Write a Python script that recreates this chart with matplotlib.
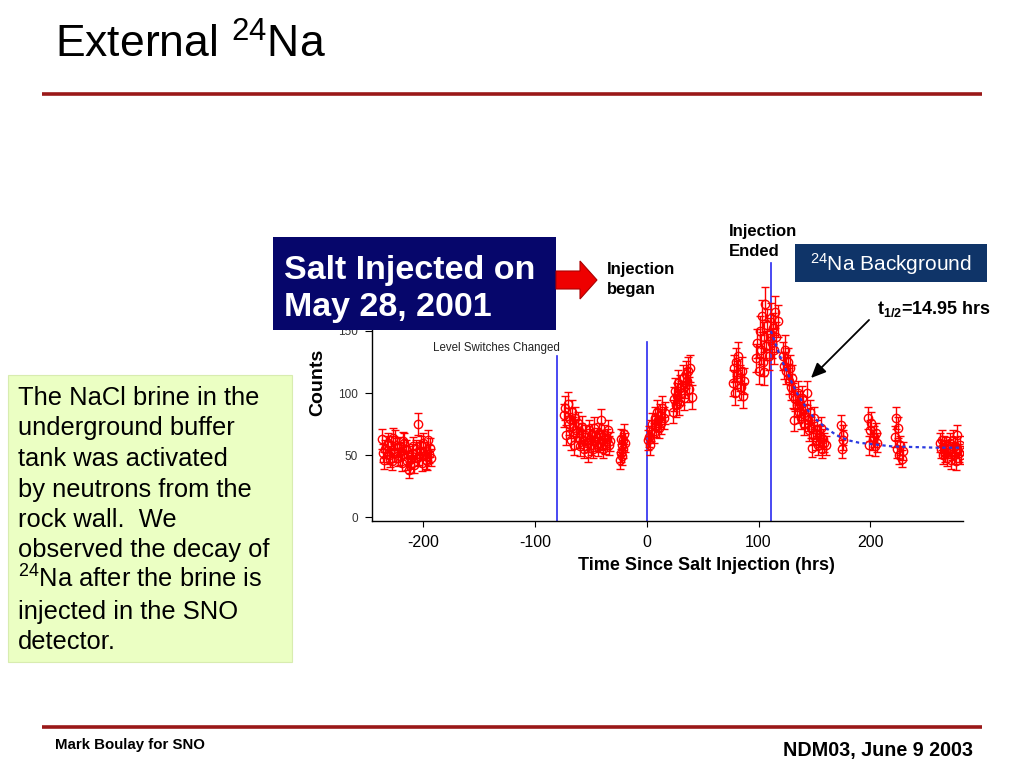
import numpy as np
import matplotlib
matplotlib.use('Agg')
import matplotlib.pyplot as plt
from matplotlib.patches import Rectangle, Polygon, FancyArrowPatch

plt.rcParams['font.family'] = ['Liberation Sans', 'DejaVu Sans']
plt.rcParams['mathtext.fontset'] = 'custom'
plt.rcParams['mathtext.rm'] = 'Liberation Sans'
plt.rcParams['mathtext.bf'] = 'Liberation Sans:bold'
plt.rcParams['mathtext.it'] = 'Liberation Sans:italic'

# ---------------- data ----------------
t_pre = [-237, -236.5, -235, -234, -233, -232, -231, -230, -229, -228, -227, -226, -225, -224,
         -223, -222, -221, -220, -219, -218, -217, -216, -215, -214, -213, -212, -211, -210,
         -209, -208, -207, -206, -205, -204, -203, -202, -201, -200, -199, -198, -197, -196,
         -195, -194, -193]
c_pre = [63, 52, 46, 55, 58, 60, 50, 47, 58, 45, 64, 52, 62, 56, 48, 57, 49, 53, 44, 61,
         60, 55, 45, 50, 38, 42, 47, 52, 57, 42, 55, 48, 75, 49, 53, 58, 44, 60, 53, 46,
         45, 62, 51, 56, 48]

t_lvl = [-74, -73, -72, -71, -70, -69, -68, -67, -66, -65, -64, -63, -62, -61, -60, -59, -58,
         -57, -56, -55, -54, -53, -52, -51, -50, -49, -48, -47, -46, -45, -44, -43, -42, -41,
         -40, -39, -38, -37, -36, -35, -34, -33]
c_lvl = [82, 88, 66, 91, 75, 79, 62, 85, 72, 58, 80, 70, 76, 64, 57, 68, 73, 62, 55, 66, 60,
         52, 70, 63, 58, 67, 55, 72, 61, 64, 57, 68, 60, 78, 62, 55, 66, 59, 63, 70, 58, 61]

t_gap = [-24, -23.5, -23, -22.5, -22, -21.5, -21, -20, -19.5]
c_gap = [46, 52, 63, 58, 49, 62, 55, 67, 60]

t_inj1 = [1, 2, 3, 4, 5, 6, 7, 8, 9, 10, 11, 12, 13, 14, 15, 16]
c_inj1 = [62, 65, 58, 70, 75, 68, 80, 73, 85, 78, 72, 82, 76, 88, 80, 84]

t_inj2 = [23, 24, 25, 26, 27, 28, 29, 30, 31, 32, 33, 34, 35, 36, 37, 38, 39, 40]
c_inj2 = [85, 95, 102, 90, 98, 108, 92, 104, 100, 112, 96, 106, 115, 110, 118, 103, 120, 97]

t_inj3 = [77, 78, 79, 80, 81, 82, 83, 84, 85, 86, 87]
c_inj3 = [108, 120, 100, 125, 115, 130, 112, 105, 118, 98, 110]

t_peak = [98, 99, 100, 101, 102, 103, 104, 104.5, 105, 106, 107, 108, 109, 110, 111, 112,
          113, 114, 115, 116, 117]
c_peak = [128, 140, 118, 150, 135, 162, 125, 117, 145, 172, 138, 155, 130, 148, 160, 140,
          152, 135, 165, 145, 158]

t_decay = [122, 123, 124, 125, 126, 127, 128, 129, 130, 131, 132, 133, 134, 135, 136, 137,
           138, 139, 140, 141, 142, 143, 144, 145, 146, 147, 148, 149, 150, 151, 152, 153,
           154, 155, 156, 157, 158, 159, 160]
c_decay = [130, 122, 135, 118, 125, 110, 120, 105, 112, 98, 78, 95, 90, 100, 85, 92, 80, 96,
           88, 75, 82, 100, 78, 70, 85, 72, 56, 66, 80, 62, 70, 58, 66, 65, 72, 55, 63, 60, 58]

t_late = [174, 175, 175.5, 176, 198, 199, 200, 201, 202, 203, 204, 205, 206,
          222, 223, 224, 225, 226, 227, 228, 229]
c_late = [74, 55, 62, 66, 80, 58, 70, 76, 62, 65, 57, 68, 60,
          65, 80, 55, 72, 50, 58, 47, 53]

t_end = [262, 263, 264, 265, 266, 267, 268, 269, 270, 271, 272, 273, 274, 275, 276, 277,
         278, 279, 280, 281]
c_end = [60, 55, 62, 50, 58, 52, 57, 48, 55, 60, 46, 53, 62, 50, 57, 45, 66, 52, 58, 50]

# decay fit (t1/2 = 14.95 hrs)
fit_t = [111, 115, 120, 125, 130, 135, 140, 145, 150, 160, 170, 180, 190, 200, 220, 240, 260, 281]
fit_c = [150, 140, 128, 118, 108, 99, 92, 85, 80, 72, 66, 62, 60, 59, 57, 56.5, 56, 56]

# event markers: time (hrs) and top of line (counts)
event_t = [-80, 0, 111]
event_top = [130, 141, 205]

xtick_vals = [-200, -100, 0, 100, 200]
xtick_labels = ['-200', '-100', '0', '100', '200']
ytick_vals = [0, 50, 100, 150]

# ---------------- figure ----------------
t = np.array(t_pre + t_lvl + t_gap + t_inj1 + t_inj2 + t_inj3 + t_peak + t_decay + t_late + t_end, float)
c = np.array(c_pre + c_lvl + c_gap + c_inj1 + c_inj2 + c_inj3 + c_peak + c_decay + c_late + c_end, float)
err = np.sqrt(c)

fig = plt.figure(figsize=(10.24, 7.68), dpi=100)
W, H = 1024, 768
ax = fig.add_axes([372 / W, 1 - 521 / H, (963 - 372) / W, (521 - 275) / H], zorder=1)
ax.patch.set_alpha(0)

ax.errorbar(t, c, yerr=err, fmt='o', mfc='none', mec='#ff0000', ecolor='#ff0000',
            ms=6, mew=1, elinewidth=1, capsize=3, capthick=1, zorder=3)
ax.plot(fit_t, fit_c, linestyle=(0, (1.5, 1.5)), color='#2b3be0', lw=1.6, zorder=4)
for xe, top in zip(event_t, event_top):
    ax.plot([xe, xe], [-3, top], color='#2a2af0', lw=1.2, clip_on=False, zorder=2)

ax.set_xlim(-246, 283)
ax.set_ylim(-3, 195)
for s in ['top', 'right']:
    ax.spines[s].set_visible(False)
for s in ['left', 'bottom']:
    ax.spines[s].set_linewidth(1)
ax.set_xticks(xtick_vals)
ax.set_xticklabels(xtick_labels)
ax.set_yticks(ytick_vals)
ax.tick_params(axis='x', direction='out', length=4, pad=6, labelsize=11.5)
ax.tick_params(axis='y', direction='out', length=5, pad=5, labelsize=8.5, labelcolor='#333333')

# ---------------- overlay (slide elements, pixel coords) ----------------
ov = fig.add_axes([0, 0, 1, 1], zorder=10)
ov.set_xlim(0, W)
ov.set_ylim(H, 0)
ov.axis('off')
ov.patch.set_alpha(0)

ov.text(55, 58, r'External $\mathrm{^{24}}$Na', fontsize=32, va='baseline', ha='left')
ov.plot([42, 982], [94, 94], color='#9a1818', lw=2.6, solid_capstyle='butt')
ov.plot([42, 982], [727, 727], color='#9a1818', lw=2.6, solid_capstyle='butt')

ov.text(55, 749, 'Mark Boulay for SNO', fontsize=10.8, fontweight='bold', va='baseline')
ov.text(973, 756, 'NDM03, June 9 2003', fontsize=14.2, fontweight='bold', va='baseline', ha='right')

# Salt injected box
ov.add_patch(Rectangle((273, 237), 283, 93, facecolor='#06066b', edgecolor='none'))
ov.text(284, 279, 'Salt Injected on', color='white', fontsize=24.5, fontweight='bold', va='baseline')
ov.text(284, 316, 'May 28, 2001', color='white', fontsize=24.5, fontweight='bold', va='baseline')
ov.add_patch(Polygon([(556, 271), (580, 271), (580, 261), (597, 280), (580, 299), (580, 289), (556, 289)],
                     closed=True, facecolor='#ee0000', edgecolor='#aa0000', lw=0.8))

ov.text(607, 274, 'Injection', fontsize=12, fontweight='bold', va='baseline')
ov.text(607, 294, 'began', fontsize=12, fontweight='bold', va='baseline')
ov.text(729, 236, 'Injection', fontsize=12, fontweight='bold', va='baseline')
ov.text(729, 256, 'Ended', fontsize=12, fontweight='bold', va='baseline')

ov.add_patch(Rectangle((795, 244), 192, 38, facecolor='#0f3468', edgecolor='none'))
ov.text(891, 271, r'$\mathrm{^{24}}$Na Background', color='white', fontsize=15, va='baseline', ha='center')

ov.text(877, 314, r't$\mathbf{_{1/2}}$=14.95 hrs', fontsize=13, fontweight='bold', va='baseline')
ov.add_patch(FancyArrowPatch((871, 318), (809, 380), arrowstyle='-|>,head_length=9,head_width=4',
                             color='black', lw=1.3, mutation_scale=1))

ov.text(496, 351, 'Level Switches Changed', fontsize=8.3, ha='center', va='baseline', color='#222222')
ov.text(318, 382, 'Counts', fontsize=14, fontweight='bold', rotation=90, ha='center', va='center')
ov.text(706, 570, 'Time Since Salt Injection (hrs)', fontsize=13, fontweight='bold', ha='center', va='baseline')

# green text box
ov.add_patch(Rectangle((8, 375), 284, 287, facecolor='#ebffc3', edgecolor='#d8ecb0', lw=0.8))
lines = ['The NaCl brine in the', 'underground buffer', 'tank was activated', 'by neutrons from the',
         'rock wall.  We', 'observed the decay of', r'$\mathrm{^{24}}$Na after the brine is',
         'injected in the SNO', 'detector.']
for i, ln in enumerate(lines):
    ov.text(18, 405 + i * 30.5, ln, fontsize=18.4, va='baseline', ha='left')

fig.savefig('out.png', dpi=100)
